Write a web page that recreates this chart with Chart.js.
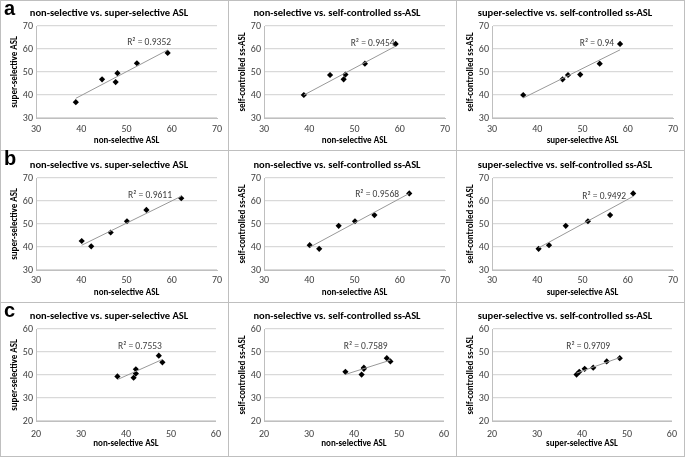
<!DOCTYPE html>
<html>
<head>
<meta charset="utf-8">
<script src="https://cdn.jsdelivr.net/npm/chart.js@4.4.1/dist/chart.umd.min.js"></script>
<style>
body { margin: 0; background: #fff; }
#wrap { position: relative; width: 685px; height: 457px; overflow: hidden; }
.panel { position: absolute; box-sizing: border-box; border: 1px solid #bfbfbf; background: #fff; }
.panel canvas { display: block; }
.tag { position: absolute; left: 3px; top: -4px; font: bold 20px "Liberation Sans", Arial, sans-serif; color: #000; }
</style>
</head>
<body>
<div id="wrap"></div>
<script>
// row a
let nonA   = [38.8, 44.6, 47.6, 48.0, 52.3, 59.1];
let superA = [36.9, 46.8, 45.6, 49.5, 53.8, 58.3];
let selfA  = [40.0, 48.7, 46.8, 48.9, 53.6, 62.2];
// row b
let nonB   = [40.1, 42.2, 46.5, 50.1, 54.4, 62.1];
let superB = [42.6, 40.3, 46.3, 51.2, 56.1, 61.2];
let selfB  = [40.8, 39.2, 49.2, 51.2, 53.9, 63.3];
// row c
let nonC   = [38.1, 41.7, 42.2, 42.2, 47.3, 48.1];
let superC = [39.4, 38.8, 40.6, 42.5, 48.4, 45.5];
let selfC  = [41.4, 40.2, 42.7, 43.2, 47.3, 45.9];

let r2A = ['0.9352', '0.9454', '0.94'];
let r2B = ['0.9611', '0.9568', '0.9492'];
let r2C = ['0.7553', '0.7589', '0.9709'];

let rangeA = [30, 70];
let rangeB = [30, 70];
let rangeC = [20, 60];

let panelTitles = ['non-selective vs. super-selective ASL', 'non-selective vs. self-controlled ss-ASL', 'super-selective vs. self-controlled ss-ASL'];
let xTitles = ['non-selective ASL', 'non-selective ASL', 'super-selective ASL'];
let yTitles = ['super-selective ASL', 'self-controlled ss-ASL', 'self-controlled ss-ASL'];
let rowTags = ['a', 'b', 'c'];

// where the R² text sits (data units)
let labelAt = [
    [[55.0, 62.6], [54.0, 62.3], [53.2, 62.2]],
    [[55.2, 62.2], [55.0, 62.6], [54.8, 61.7]],
    [[43.1, 52.3], [42.6, 52.3], [41.4, 52.3]]
];

let rows = [
    { pairs: [[nonA, superA], [nonA, selfA], [superA, selfA]], r2: r2A, range: rangeA },
    { pairs: [[nonB, superB], [nonB, selfB], [superB, selfB]], r2: r2B, range: rangeB },
    { pairs: [[nonC, superC], [nonC, selfC], [superC, selfC]], r2: r2C, range: rangeC }
];

// layout of the grid
let colEdges = [0, 228, 456, 684];
let rowEdges = [0, 150, 302, 456];
let rowLayout = [
    { titleBox: 25, titleMid: 12, bottomBox: 32, xTitleOff: 9, tickPad: 5 },
    { titleBox: 27, titleMid: 14, bottomBox: 32, xTitleOff: 9, tickPad: 4 },
    { titleBox: 26, titleMid: 13, bottomBox: 35, xTitleOff: 12, tickPad: 7 }
];

Chart.defaults.font.family = 'Carlito, Lato, "Liberation Sans", sans-serif';
Chart.defaults.color = '#404040';

let fit = function(xs, ys) {
    let n = xs.length, sx = 0, sy = 0, sxx = 0, sxy = 0;
    for (let i = 0; i < n; i++) {
        sx += xs[i]; sy += ys[i]; sxx += xs[i] * xs[i]; sxy += xs[i] * ys[i];
    }
    let b = (n * sxy - sx * sy) / (n * sxx - sx * sx);
    let a = (sy - b * sx) / n;
    return { a: a, b: b };
};

let r2Label = {
    id: 'r2Label',
    afterDatasetsDraw(chart, args, opts) {
        let ctx = chart.ctx;
        ctx.save();
        ctx.font = '9.5px ' + Chart.defaults.font.family;
        ctx.fillStyle = '#404040';
        ctx.textAlign = 'center';
        ctx.textBaseline = 'middle';
        ctx.fillText('R\u00B2 = ' + opts.text, chart.scales.x.getPixelForValue(opts.pos[0]), chart.scales.y.getPixelForValue(opts.pos[1]));
        ctx.restore();
    }
};

let wrap = document.getElementById('wrap');

for (let r = 0; r < 3; r++) {
    for (let c = 0; c < 3; c++) {
        let w = colEdges[c + 1] - colEdges[c] + 1;
        let h = rowEdges[r + 1] - rowEdges[r] + 1;
        let div = document.createElement('div');
        div.className = 'panel';
        div.style.left = colEdges[c] + 'px';
        div.style.top = rowEdges[r] + 'px';
        div.style.width = w + 'px';
        div.style.height = h + 'px';
        let cw = w - 2, ch = h - 2;
        let cv = document.createElement('canvas');
        cv.width = cw; cv.height = ch;
        cv.style.width = cw + 'px'; cv.style.height = ch + 'px';
        div.appendChild(cv);
        if (c == 0) {
            let tag = document.createElement('div');
            tag.className = 'tag';
            tag.textContent = rowTags[r];
            div.appendChild(tag);
        }
        wrap.appendChild(div);

        let lay = rowLayout[r];
        let row = rows[r];
        let xs = row.pairs[c][0], ys = row.pairs[c][1];
        let pts = xs.map((x, i) => ({ x: x, y: ys[i] }));
        let f = fit(xs, ys);
        let xMin = Math.min(...xs), xMax = Math.max(...xs);
        let trend = [{ x: xMin, y: f.a + f.b * xMin }, { x: xMax, y: f.a + f.b * xMax }];
        let titleSize = 10.5;
        let titleLH = 13;

        new Chart(cv, {
            type: 'scatter',
            data: {
                datasets: [{
                    data: trend,
                    showLine: true,
                    borderColor: '#999999',
                    borderWidth: 1,
                    pointRadius: 0
                }, {
                    data: pts,
                    pointStyle: 'rectRot',
                    pointRadius: 3.1,
                    backgroundColor: '#000',
                    borderWidth: 0
                }]
            },
            options: {
                responsive: false,
                animation: false,
                devicePixelRatio: 1,
                layout: { padding: { left: 0, top: 0, bottom: 0, right: cw - 216 } },
                plugins: {
                    legend: { display: false },
                    tooltip: { enabled: false },
                    title: {
                        display: true,
                        text: panelTitles[c],
                        color: '#000',
                        font: { size: titleSize, weight: 'bold', lineHeight: titleLH / titleSize },
                        padding: { top: lay.titleMid - titleLH / 2, bottom: lay.titleBox - (lay.titleMid + titleLH / 2) }
                    },
                    r2Label: { text: row.r2[c], pos: labelAt[r][c] }
                },
                scales: {
                    x: {
                        type: 'linear',
                        min: row.range[0],
                        max: row.range[1],
                        ticks: { stepSize: 10, padding: lay.tickPad, font: { size: 10 }, color: '#404040' },
                        grid: { display: false, drawTicks: false },
                        border: { display: true, color: '#bfbfbf' },
                        title: {
                            display: true,
                            text: xTitles[c],
                            color: '#000',
                            font: { size: 9, weight: 'bold', lineHeight: 1.2 },
                            padding: { top: 0, bottom: lay.xTitleOff - 5.4 }
                        },
                        afterFit: function(s) { s.height = lay.bottomBox; }
                    },
                    y: {
                        type: 'linear',
                        min: row.range[0],
                        max: row.range[1],
                        ticks: { stepSize: 10, padding: 3, font: { size: 10 }, color: '#404040' },
                        grid: { color: '#d9d9d9', lineWidth: 1.3, drawTicks: false },
                        border: { display: true, color: '#bfbfbf' },
                        title: {
                            display: true,
                            text: yTitles[c],
                            color: '#000',
                            font: { size: 9, weight: 'bold', lineHeight: 1.2 },
                            padding: { top: 8, bottom: 0 }
                        },
                        afterFit: function(s) { s.width = 35; }
                    }
                }
            },
            plugins: [r2Label]
        });
    }
}
</script>
</body>
</html>
